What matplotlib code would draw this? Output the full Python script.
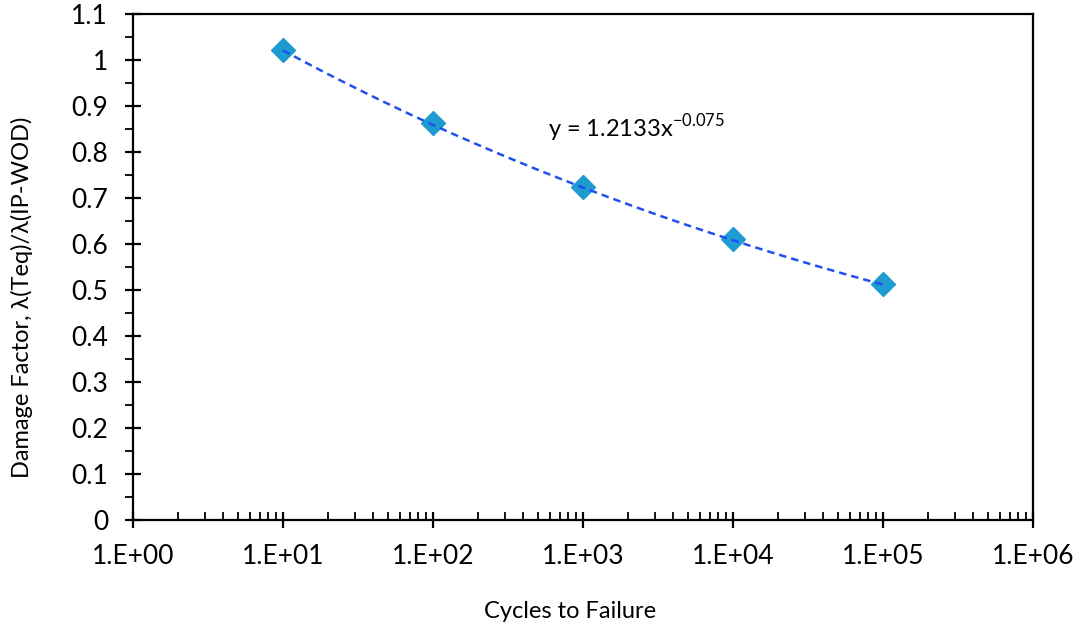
import numpy as np
import matplotlib
matplotlib.use("Agg")
import matplotlib.pyplot as plt
from matplotlib.ticker import LogLocator, FixedLocator, FuncFormatter, MultipleLocator

cycles = [1e1, 1e2, 1e3, 1e4, 1e5]
damage = [1.022, 0.862, 0.725, 0.610, 0.512]
coef_a = 1.2133
coef_b = -0.075
x_ticks = [1e0, 1e1, 1e2, 1e3, 1e4, 1e5, 1e6]
x_tick_labels = ["1.E+00", "1.E+01", "1.E+02", "1.E+03", "1.E+04", "1.E+05", "1.E+06"]
y_ticks = [0, 0.1, 0.2, 0.3, 0.4, 0.5, 0.6, 0.7, 0.8, 0.9, 1, 1.1]
y_tick_labels = ["0", "0.1", "0.2", "0.3", "0.4", "0.5", "0.6", "0.7", "0.8", "0.9", "1", "1.1"]

plt.rcParams['font.family'] = ['Lato', 'DejaVu Sans']
plt.rcParams['mathtext.fontset'] = 'custom'
plt.rcParams['mathtext.rm'] = 'Lato'

fig = plt.figure(figsize=(10.8, 6.3), dpi=100)
ax = fig.add_axes([133/1080, 1 - 520/630, (1033-133)/1080, (520-14)/630])

ax.set_xscale('log')
ax.set_xlim(1, 1e6)
ax.set_ylim(0, 1.1)

xs = np.logspace(np.log10(cycles[0]), np.log10(cycles[-1]), 200)
ax.plot(cycles, damage, linestyle='none', marker='D', markersize=12,
        markerfacecolor='#1e9bd0', markeredgecolor='#1e9bd0', zorder=3)
ax.plot(xs, coef_a * xs ** coef_b, linestyle=(0, (3, 2)), color='#2050f0', linewidth=1.8, zorder=4)

ax.xaxis.set_major_locator(FixedLocator(x_ticks))
ax.set_xticklabels(x_tick_labels)
ax.xaxis.set_minor_locator(LogLocator(base=10, subs=np.arange(2, 10)))
ax.xaxis.set_minor_formatter(FuncFormatter(lambda v, p: ""))
ax.yaxis.set_major_locator(FixedLocator(y_ticks))
ax.set_yticklabels(y_tick_labels)
ax.yaxis.set_minor_locator(MultipleLocator(0.05))

ax.tick_params(axis='x', which='major', direction='inout', length=12, width=1.6, labelsize=19, pad=11)
ax.tick_params(axis='x', which='minor', direction='in', length=6, width=1.3)
ax.tick_params(axis='y', which='major', direction='inout', length=12, width=1.6, labelsize=19, pad=12)
ax.tick_params(axis='y', which='minor', direction='out', length=6, width=1.3)
for s in ax.spines.values():
    s.set_linewidth(1.6)
    s.set_color('black')

fig.text(548/1080, 1 - 128/630, "y = 1.2133x$^{\\mathregular{-0.075}}$",
         fontsize=17, va='center', ha='left')

fig.text(570/1080, 1 - 612/630, "Cycles to Failure", fontsize=17, ha='center', va='center')
fig.text(22/1080, 1 - 297/630, "Damage Factor, λ(Teq)/λ(IP-WOD)", fontsize=17, ha='center', va='center', rotation=90)

fig.savefig("out.png", dpi=100)
